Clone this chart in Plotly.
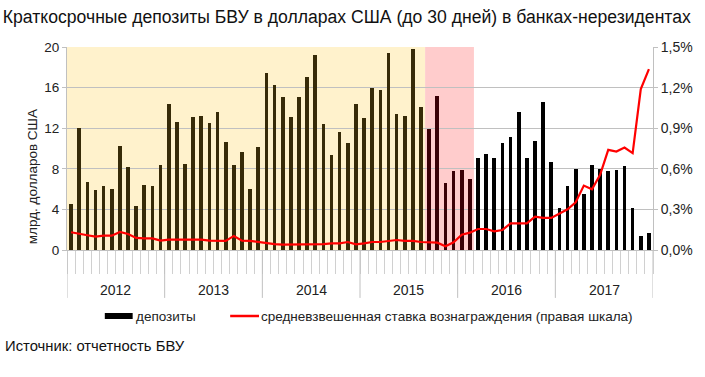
import plotly.graph_objects as go
import numpy as np

years = ["2012", "2013", "2014", "2015", "2016", "2017"]

deposits = [
    4.54, 12.04, 6.71, 5.92, 6.35, 5.99, 10.23, 8.19, 4.31, 6.45, 6.32, 8.39,
    14.34, 12.57, 8.52, 13.06, 13.19, 12.5, 13.59, 10.69, 8.42, 9.67, 5.99, 10.13,
    17.4, 16.22, 15.1, 13.06, 15.1, 17.07, 19.24, 12.43, 9.34, 11.64, 10.53, 14.41,
    12.96, 15.95, 15.72, 19.41, 13.42, 13.19, 19.84, 14.11, 11.94, 15.16, 6.58, 7.83,
    7.89, 7.0, 9.08, 9.44, 9.11, 10.56, 11.15, 13.59, 9.05, 10.72, 14.57, 8.65,
    4.18, 6.35, 8.03, 5.53, 8.42, 7.99, 7.8, 7.89, 8.26, 4.11, 1.41, 1.68,
]

rate = [
    0.131, 0.118, 0.109, 0.099, 0.106, 0.106, 0.133, 0.118, 0.089, 0.086, 0.086, 0.069,
    0.076, 0.076, 0.076, 0.076, 0.076, 0.069, 0.067, 0.067, 0.104, 0.069, 0.067, 0.059,
    0.049, 0.044, 0.040, 0.040, 0.040, 0.040, 0.040, 0.044, 0.049, 0.049, 0.059, 0.042,
    0.049, 0.059, 0.059, 0.067, 0.074, 0.067, 0.067, 0.059, 0.059, 0.054, 0.028, 0.057,
    0.113, 0.128, 0.155, 0.155, 0.138, 0.148, 0.197, 0.197, 0.197, 0.247, 0.237, 0.237,
    0.271, 0.301, 0.353, 0.476, 0.449, 0.555, 0.740, 0.728, 0.757, 0.716, 1.189, 1.337,
]

# shaded periods (month index start, end exclusive)
yellow_period = (0, 44)
pink_period = (44, 50)

n = len(deposits)
x = np.arange(n)

bar_colors = []
for i in range(n):
    if yellow_period[0] <= i < yellow_period[1]:
        bar_colors.append("#372b08")
    elif pink_period[0] <= i < pink_period[1]:
        bar_colors.append("#3a0006")
    else:
        bar_colors.append("#000000")

FONT = "Liberation Sans, Arial, sans-serif"
GRID = "#c0c0c0"

fig = go.Figure()
fig.add_trace(go.Bar(x=x, y=deposits, marker=dict(color=bar_colors, line=dict(width=0)),
                     width=0.45, name="депозиты", showlegend=False))
fig.add_trace(go.Scatter(x=x, y=rate, yaxis="y2", mode="lines",
                         line=dict(color="#ff0000", width=2.2),
                         name="ставка", showlegend=False))

# shading
fig.add_shape(type="rect", xref="x", yref="y", x0=yellow_period[0] - 0.5, x1=yellow_period[1] - 0.5,
              y0=0, y1=20, fillcolor="#fff2cc", line_width=0, layer="below")
fig.add_shape(type="rect", xref="x", yref="y", x0=pink_period[0] - 0.5, x1=pink_period[1] - 0.5,
              y0=0, y1=20, fillcolor="#ffcccc", line_width=0, layer="below")

# year separators and labels
for k, yr in enumerate(years):
    fig.add_shape(type="line", xref="x", yref="paper", x0=12 * k - 0.5, x1=12 * k - 0.5,
                  y0=0, y1=-0.236, line=dict(color=GRID, width=1))
    fig.add_annotation(x=12 * k + 5.5, y=-0.197, xref="x", yref="paper", text=yr,
                       showarrow=False, font=dict(size=14, color="#222"), yanchor="middle")
fig.add_shape(type="line", xref="x", yref="paper", x0=12 * len(years) - 0.5, x1=12 * len(years) - 0.5,
              y0=0, y1=-0.236, line=dict(color=GRID, width=1))

W = 589.0
H = 203.0
def px(X):
    return (X - 67) / W
def py(Y):
    return (250 - Y) / H

# legend (manual)
fig.add_shape(type="rect", xref="paper", yref="paper", x0=px(105), x1=px(133), y0=py(319), y1=py(313),
              fillcolor="#000000", line_width=0)
fig.add_annotation(x=px(134), y=py(316), xref="paper", yref="paper", text="депозиты",
                   showarrow=False, xanchor="left", yanchor="middle", font=dict(size=13.5, color="#222"))
fig.add_shape(type="line", xref="paper", yref="paper", x0=px(231), x1=px(260), y0=py(316), y1=py(316),
              line=dict(color="#ff0000", width=2.5))
fig.add_annotation(x=px(260), y=py(316), xref="paper", yref="paper",
                   text="средневзвешенная ставка вознаграждения (правая шкала)",
                   showarrow=False, xanchor="left", yanchor="middle", font=dict(size=13.5, color="#222"))

# source
fig.add_annotation(x=px(3), y=py(346), xref="paper", yref="paper", text="Источник: отчетность БВУ",
                   showarrow=False, xanchor="left", yanchor="middle", font=dict(size=14.8, color="#111"))

# y-axis title
fig.add_annotation(x=px(32), y=py(177), xref="paper", yref="paper", text="млрд. долларов США",
                   showarrow=False, textangle=-90, xanchor="center", yanchor="middle",
                   font=dict(size=13.5, color="#222"))

fig.update_layout(
    width=705, height=377,
    margin=dict(l=67, r=49, t=47, b=127),
    paper_bgcolor="white", plot_bgcolor="white",
    font=dict(family=FONT, size=13, color="#222"),
    separators=", ",
    title=dict(text="Краткосрочные депозиты БВУ в долларах США (до 30 дней) в банках-нерезидентах",
               x=0.004, xanchor="left", xref="container", y=1 - 17 / 377, yanchor="middle",
               font=dict(size=17.6, color="#111", family=FONT)),
    bargap=0,
    xaxis=dict(range=[-0.5, n - 0.5], showticklabels=False, showgrid=False, zeroline=False,
               tickmode="array", tickvals=list(np.arange(n + 1) - 0.5), ticks="outside", ticklen=23,
               tickcolor="#d0d0d0", tickwidth=1, showline=True, linecolor=GRID),
    yaxis=dict(range=[0, 20], dtick=4, tick0=0, showgrid=True, gridcolor=GRID, gridwidth=1,
               zeroline=False, showline=True, linecolor=GRID, ticks="outside", ticklen=4,
               tickcolor=GRID, tickfont=dict(size=13.5)),
    yaxis2=dict(range=[0, 1.5], dtick=0.3, tick0=0, overlaying="y", side="right", showgrid=False,
                zeroline=False, showline=True, linecolor=GRID, ticks="outside", ticklen=4,
                tickcolor=GRID, tickformat=".1f", ticksuffix="%", tickfont=dict(size=14)),
)

fig.write_html("out.html", config={"displayModeBar": False},
               post_script="document.body.style.margin='0';document.body.style.padding='0';")
